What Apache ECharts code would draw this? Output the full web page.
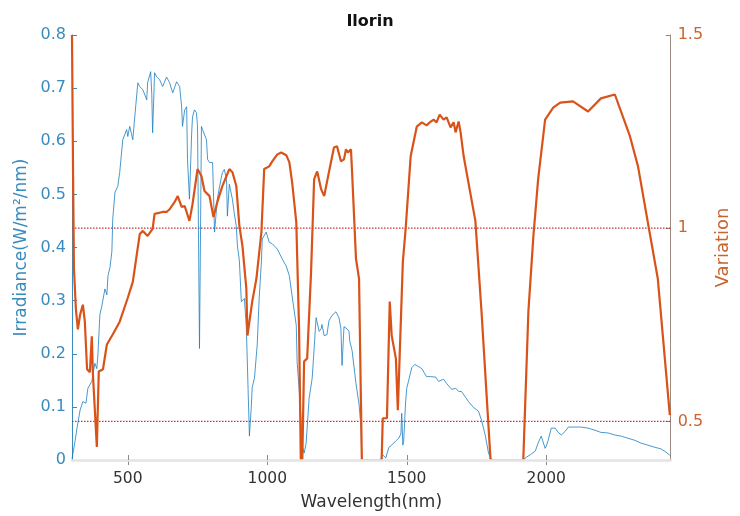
<!DOCTYPE html>
<html>
<head>
<meta charset="utf-8">
<script src="https://cdn.jsdelivr.net/npm/echarts@6/dist/echarts.min.js"></script>
<style>html,body{margin:0;padding:0;background:#fff}#c{width:740px;height:516px}</style>
</head>
<body>
<div id="c"></div>
<script>
// ---- data ----
const titleText = 'Ilorin';
const xTicks = [500, 1000, 1500, 2000];
const leftTicks = [0, 0.1, 0.2, 0.3, 0.4, 0.5, 0.6, 0.7, 0.8];
const rightTicks = [0.5, 1, 1.5];
const refLines = [0.5, 1];

// irradiance spectrum [wavelength nm, W/m2/nm]
const irradiance = [
[300,0.002],[311,0.036],[318,0.06],[329,0.094],[339,0.11],[350,0.107],[357,0.135],[371,0.148],[382,0.182],[389,0.172],[393,0.199],
[400,0.274],[407,0.29],[418,0.322],[425,0.311],[429,0.347],[436,0.362],[443,0.393],[446,0.453],[454,0.504],[464,0.515],[471,0.541],
[482,0.603],[496,0.622],[500,0.609],[507,0.628],[518,0.603],[525,0.646],[536,0.71],[543,0.703],[554,0.697],[568,0.678],[571,0.71],
[582,0.731],[586,0.688],[589,0.616],[596,0.729],[604,0.721],[614,0.716],[625,0.703],[639,0.721],[650,0.71],[661,0.691],[675,0.712],
[686,0.703],[693,0.665],[696,0.628],[704,0.659],[711,0.665],[714,0.566],[721,0.491],[729,0.616],[732,0.646],[739,0.659],[746,0.654],
[750,0.628],[757,0.21],[764,0.628],[768,0.622],[782,0.603],[786,0.566],[793,0.56],[804,0.56],[811,0.429],[821,0.491],[829,0.515],
[839,0.541],[846,0.547],[854,0.528],[857,0.459],[864,0.519],[875,0.491],[882,0.463],[889,0.44],[893,0.403],[900,0.375],[907,0.298],
[918,0.304],[925,0.249],[936,0.045],[943,0.103],[946,0.137],[954,0.154],[961,0.154],[964,0.217],[971,0.305],[979,0.373],[982,0.416],
[996,0.429],[1007,0.41],[1018,0.407],[1036,0.397],[1054,0.378],[1068,0.365],[1079,0.347],[1089,0.309],[1104,0.253],[1107,0.185],
[1114,0.135],[1121,0.079],[1125,0.028],[1132,0.013],[1139,0.03],[1150,0.116],[1161,0.154],[1168,0.21],[1175,0.268],[1186,0.242],
[1193,0.247],[1196,0.255],[1204,0.234],[1214,0.236],[1221,0.262],[1232,0.272],[1246,0.279],[1257,0.268],[1264,0.247],[1268,0.178],
[1275,0.251],[1286,0.247],[1293,0.242],[1296,0.223],[1304,0.206],[1318,0.144],[1329,0.105],[1336,0.06],[1339,0],[1346,0],[1407,0],
[1411,0.011],[1425,0.004],[1436,0.024],[1446,0.028],[1461,0.036],[1471,0.041],[1479,0.049],[1482,0.088],[1486,0.028],[1489,0.036],
[1496,0.11],[1500,0.135],[1507,0.137],[1518,0.174],[1529,0.18],[1536,0.178],[1554,0.172],[1571,0.157],[1586,0.157],[1604,0.156],
[1614,0.148],[1632,0.152],[1643,0.144],[1650,0.142],[1661,0.133],[1675,0.135],[1686,0.129],[1696,0.129],[1711,0.118],[1721,0.11],
[1739,0.099],[1757,0.092],[1768,0.075],[1782,0.045],[1793,0.013],[1800,0.004],[1810,0],[1920,0],[1925,0.004],[1946,0.011],
[1961,0.017],[1971,0.032],[1982,0.045],[1996,0.022],[2000,0.026],[2007,0.037],[2018,0.06],[2032,0.06],[2043,0.052],[2054,0.047],
[2068,0.054],[2079,0.062],[2104,0.062],[2125,0.062],[2150,0.06],[2175,0.056],[2196,0.052],[2221,0.051],[2246,0.047],[2268,0.045],
[2293,0.041],[2318,0.037],[2339,0.032],[2364,0.028],[2389,0.024],[2411,0.021],[2429,0.015],[2443,0.009]
];

// variation curve [wavelength nm, ratio]
const variation = [
[300,1.5],[304,1.127],[307,0.895],[314,0.79],[321,0.738],[329,0.776],[339,0.802],[346,0.758],[354,0.635],[364,0.627],[371,0.72],
[375,0.622],[389,0.434],[396,0.629],[411,0.635],[425,0.699],[446,0.725],[471,0.758],[500,0.82],[518,0.861],[532,0.931],[543,0.985],
[554,0.993],[571,0.98],[589,0.998],[596,1.037],[625,1.042],[639,1.042],[650,1.049],[668,1.068],[679,1.083],[693,1.055],[704,1.057],
[721,1.019],[732,1.062],[750,1.153],[764,1.135],[775,1.096],[793,1.083],[807,1.029],[821,1.068],[839,1.109],[864,1.153],[875,1.145],
[889,1.109],[900,1.006],[911,0.954],[925,0.843],[929,0.722],[946,0.81],[961,0.869],[979,0.99],[989,1.153],[1007,1.16],[1018,1.173],
[1036,1.191],[1050,1.196],[1068,1.189],[1079,1.171],[1089,1.119],[1104,1.016],[1114,0.74],[1122,0.3],[1125,0.38],[1132,0.655],
[1143,0.663],[1157,0.887],[1168,1.127],[1179,1.147],[1193,1.101],[1204,1.083],[1221,1.145],[1239,1.209],[1250,1.212],[1264,1.173],
[1275,1.178],[1282,1.204],[1289,1.196],[1300,1.204],[1304,1.145],[1318,0.921],[1329,0.869],[1339,0.4],[1350,0.2],[1400,0.2],
[1410,0.4],[1414,0.508],[1429,0.508],[1439,0.81],[1446,0.722],[1461,0.663],[1468,0.529],[1486,0.913],[1496,0.998],[1514,1.186],
[1536,1.263],[1554,1.274],[1571,1.266],[1586,1.276],[1596,1.281],[1607,1.274],[1618,1.294],[1632,1.281],[1643,1.287],[1657,1.261],
[1668,1.274],[1675,1.248],[1686,1.276],[1693,1.248],[1704,1.186],[1746,1.019],[1768,0.784],[1800,0.405],[1810,0.2],[1905,0.2],
[1918,0.405],[1936,0.784],[1954,0.98],[1971,1.127],[1996,1.281],[2025,1.312],[2050,1.325],[2096,1.328],[2150,1.302],[2196,1.336],
[2246,1.346],[2300,1.238],[2329,1.16],[2364,1.016],[2400,0.869],[2443,0.516]
];

const X_MIN = 300, X_MAX = 2446;
const BLUE = '#1a7fc2', ORANGE = '#D95319';
const BLUE_TXT = '#3a8bbd', ORANGE_TXT = '#c9652c', GRAY = '#8a8a8a', REF = '#c0303a';
const FONT = '"DejaVu Sans", Verdana, sans-serif';

const chart = echarts.init(document.getElementById('c'), null, {renderer: 'canvas'});
const refSeries = refLines.map(v => ({
  type: 'line', xAxisIndex: 0, yAxisIndex: 1, silent: true,
  data: [[X_MIN, v], [X_MAX, v]], showSymbol: false, symbol: 'none',
  lineStyle: {color: REF, type: [1.5, 1.5], width: 1.2}, z: 1
}));
chart.setOption({
  animation: false,
  backgroundColor: '#ffffff',
  title: {
    text: titleText, left: 'center', top: 9,
    textStyle: {fontFamily: FONT, fontSize: 16, fontWeight: 'bold', color: '#111'}
  },
  grid: {left: 72, right: 67, top: 35, bottom: 54, containLabel: false},
  xAxis: [{
    type: 'value', min: X_MIN, max: X_MAX, z: 5,
    name: 'Wavelength(nm)', nameLocation: 'middle', nameGap: 34,
    nameTextStyle: {fontFamily: FONT, fontSize: 17, color: '#333'},
    axisLine: {show: true, onZero: false, lineStyle: {color: '#e4e4e4', width: 2.5}},
    axisTick: {show: true, inside: true, length: 5, lineStyle: {color: GRAY}, customValues: xTicks},
    axisLabel: {fontFamily: FONT, fontSize: 15.5, color: '#333', margin: 11, customValues: xTicks,
      formatter: v => String(v)},
    splitLine: {show: false}
  }, {
    type: 'value', min: X_MIN, max: X_MAX, position: 'top',
    axisLine: {show: true, lineStyle: {color: GRAY, width: 1}},
    axisTick: {show: true, inside: true, length: 5, lineStyle: {color: GRAY}, customValues: xTicks},
    axisLabel: {show: false},
    splitLine: {show: false}
  }],
  yAxis: [{
    type: 'value', min: 0, max: 0.8, interval: 0.1, position: 'left',
    name: 'Irradiance(W/m²/nm)', nameLocation: 'middle', nameGap: 33, nameRotate: 90,
    nameTextStyle: {fontFamily: FONT, fontSize: 17, color: BLUE_TXT},
    axisLine: {show: true, lineStyle: {color: BLUE_TXT, width: 1}},
    axisTick: {show: true, inside: true, length: 5, lineStyle: {color: BLUE_TXT}},
    axisLabel: {fontFamily: FONT, fontSize: 16, color: BLUE_TXT, margin: 6,
      formatter: v => { const r = Math.round(v * 10) / 10; return leftTicks.includes(r) ? String(r) : ''; }},
    splitLine: {show: false}
  }, {
    type: 'value', min: 0.4, max: 1.5, position: 'right',
    name: 'Variation', nameLocation: 'middle', nameGap: 36, nameRotate: 90,
    nameTextStyle: {fontFamily: FONT, fontSize: 18, color: ORANGE_TXT},
    axisLine: {show: true, lineStyle: {color: '#9a8a80', width: 1}},
    axisTick: {show: true, inside: true, length: 5, lineStyle: {color: '#9a8a80'}, customValues: rightTicks},
    axisLabel: {fontFamily: FONT, fontSize: 16, color: ORANGE_TXT, margin: 7, customValues: rightTicks,
      formatter: v => String(Math.round(v * 10) / 10)},
    splitLine: {show: false}
  }],
  series: [{
    type: 'line', name: 'Irradiance', xAxisIndex: 0, yAxisIndex: 0,
    data: irradiance, showSymbol: false, symbol: 'none', clip: true,
    lineStyle: {color: BLUE, width: 0.8}, z: 2
  }, {
    type: 'line', name: 'Variation', xAxisIndex: 0, yAxisIndex: 1,
    data: variation, showSymbol: false, symbol: 'none', clip: true,
    lineStyle: {color: ORANGE, width: 2.2}, z: 3
  }].concat(refSeries)
});
</script>
</body>
</html>
